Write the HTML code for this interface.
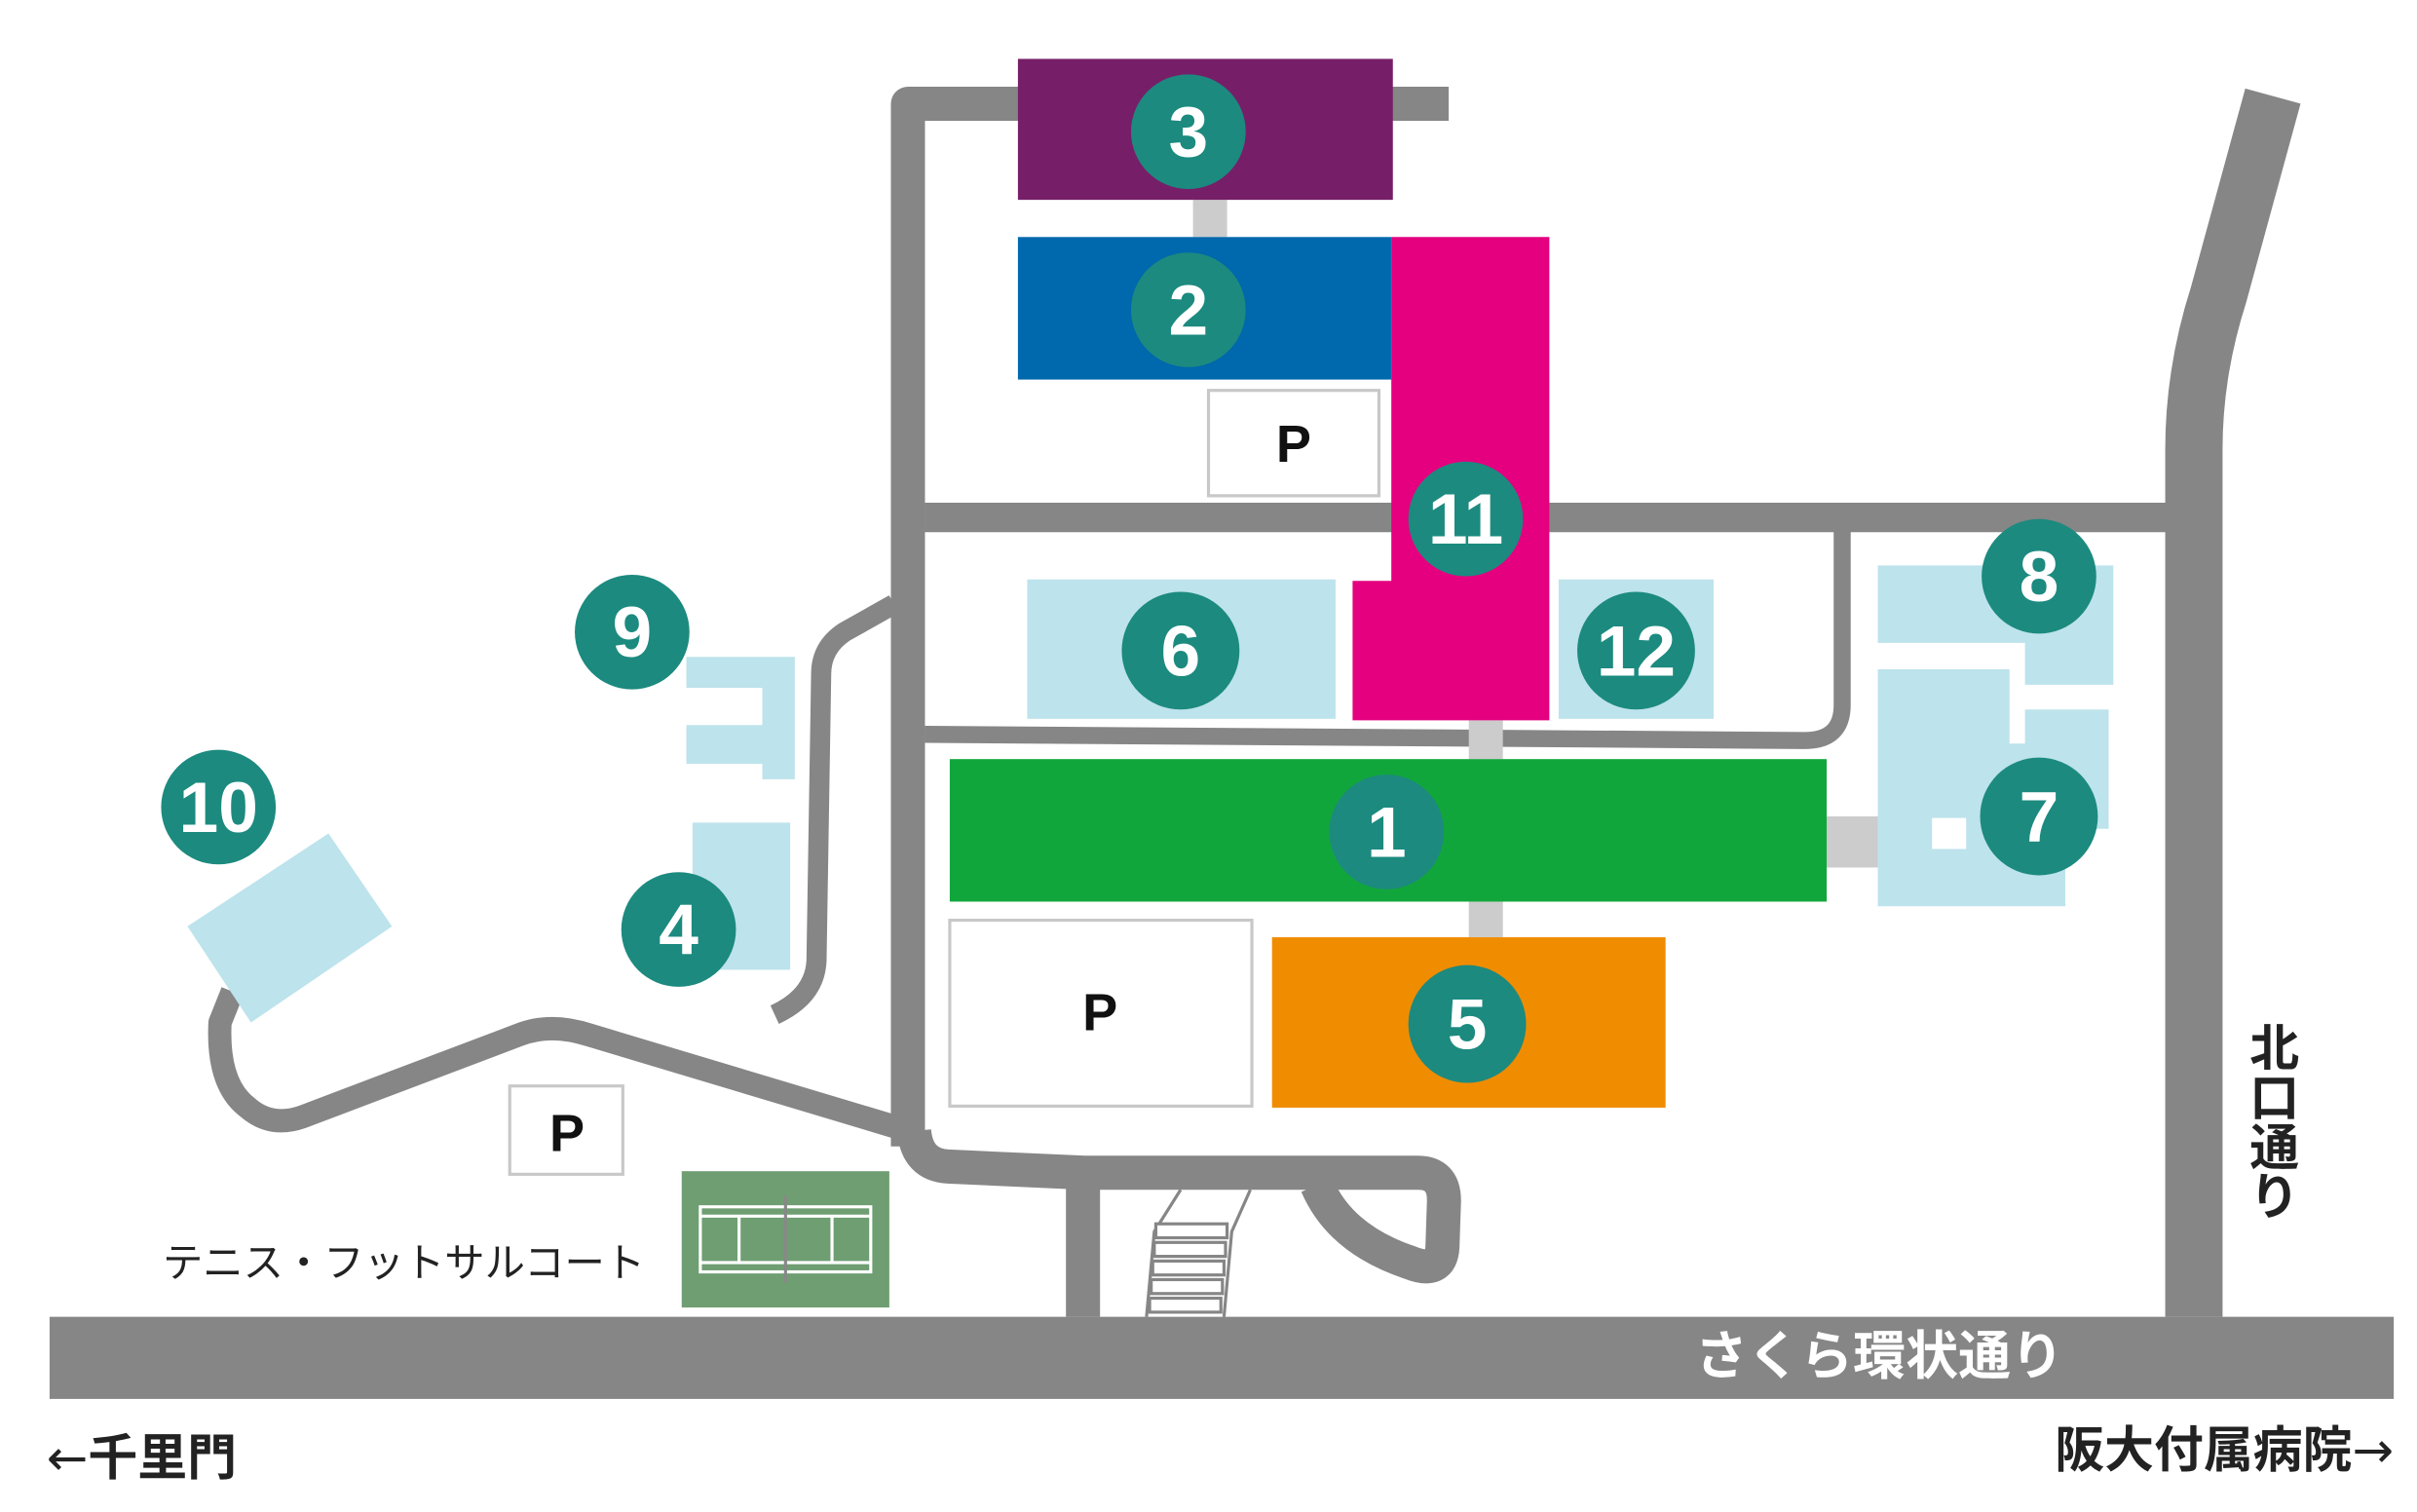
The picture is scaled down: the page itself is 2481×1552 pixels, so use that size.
<!DOCTYPE html>
<html><head><meta charset="utf-8"><style>
html,body{margin:0;padding:0;background:#fff}
svg{display:block}
.n{font-family:"Liberation Sans","DejaVu Sans",sans-serif;font-weight:bold;font-size:46px;fill:#fff;text-anchor:middle}
.p{font-family:"Liberation Sans",sans-serif;font-weight:bold;font-size:34px;fill:#111;text-anchor:middle}
.j{font-family:"Liberation Sans","Noto Sans CJK JP",sans-serif}
.ar{font-family:"DejaVu Sans",sans-serif;font-weight:normal}
</style></head><body>
<svg width="2481" height="1552" viewBox="0 0 1560 976" preserveAspectRatio="none" xmlns="http://www.w3.org/2000/svg">
<rect width="1560" height="976" fill="#fff"/>
<g fill="none" stroke="#858685" stroke-linejoin="round">
<path d="M586 740 V67 H935" stroke-width="22"/>
<path d="M597 334 H1400" stroke-width="19"/>
<path d="M1416 850 V290 Q1416 240 1432 190 L1467 62" stroke-width="37"/>
<path d="M1189 343 V455 Q1189 478 1165 478 L597 474" stroke-width="11"/>
<path d="M577 390 L545 408 Q530 418 530 435 L527 620 Q526 643 500 655" stroke-width="13"/>
<path d="M580 728 L380 668 Q355 660 335 668 L195 721 Q175 728 160 715 Q140 700 142 660 L150 640" stroke-width="15"/>
<path d="M590 730 Q592 752 612 753 L700 757 H915 Q932 757 932 775 L931 805 Q930 823 910 815 Q865 800 850 765" stroke-width="22"/>
<path d="M699 765 V850" stroke-width="22"/>
</g>
<rect x="32" y="850" width="1513" height="53" fill="#858685"/>
<g stroke="#858685" stroke-width="2" fill="#fff">
<path d="M762 768 L745 795 L740 850 M807 768 L795 795 L790 850" fill="none"/>
<rect x="746" y="790" width="46" height="9"/><rect x="745" y="802" width="46" height="9"/><rect x="744" y="814" width="46" height="9"/><rect x="743" y="826" width="46" height="9"/><rect x="742" y="838" width="46" height="9"/>
</g>
<g fill="#cccccc">
<rect x="770" y="129" width="22" height="24"/>
<rect x="948" y="465" width="22" height="25"/>
<rect x="1179" y="527" width="33" height="33"/>
<rect x="948" y="582" width="22" height="23"/>
</g>
<rect x="657" y="38" width="242" height="91" fill="#761f68"/>
<rect x="657" y="153" width="241" height="92" fill="#0068ac"/>
<rect x="780" y="252" width="110" height="68" fill="#fff" stroke="#c8c8c8" stroke-width="2"/>
<polygon points="898,153 1000,153 1000,465 873,465 873,375 898,375" fill="#e4007f"/>
<g fill="#bde3ec">
<rect x="663" y="374" width="199" height="90"/>
<rect x="1006" y="374" width="100" height="90"/>
<polygon points="1212,365 1364,365 1364,442 1307,442 1307,415 1212,415"/>
<polygon points="1212,432 1297,432 1297,480 1307,480 1307,458 1361,458 1361,535 1333,535 1333,585 1212,585"/>
<polygon points="443,424 513,424 513,503 492,503 492,493 443,493 443,468 492,468 492,444 443,444"/>
<rect x="447" y="531" width="63" height="95"/>
<polygon points="121,598 212,538 253,598 162,660"/>
</g>
<rect x="1247" y="528" width="22" height="20" fill="#fff"/>
<rect x="613" y="490" width="566" height="92" fill="#11a63c"/>
<rect x="821" y="605" width="254" height="110" fill="#f08c00"/>
<rect x="613" y="594" width="195" height="120" fill="#fff" stroke="#c8c8c8" stroke-width="2"/>
<rect x="329" y="701" width="73" height="57" fill="#fff" stroke="#c8c8c8" stroke-width="2"/>
<rect x="440" y="756" width="134" height="88" fill="#6e9e72"/>
<g fill="none" stroke="#fff" stroke-width="2">
<rect x="452" y="779" width="110" height="42"/><line x1="452" y1="785" x2="562" y2="785"/><line x1="452" y1="815" x2="562" y2="815"/><line x1="477" y1="785" x2="477" y2="815"/><line x1="537" y1="785" x2="537" y2="815"/>
</g>
<line x1="507" y1="772" x2="507" y2="828" stroke="#888" stroke-width="2"/>
<text class="p" x="835" y="298">P</text>
<text class="p" x="710" y="665">P</text>
<text class="p" x="366" y="743">P</text>
<g fill="#1c8a7f">
<circle cx="767" cy="85" r="37"/><circle cx="767" cy="200" r="37"/><circle cx="946" cy="335" r="37"/>
<circle cx="762" cy="420" r="38"/><circle cx="1056" cy="420" r="38"/><circle cx="1316" cy="372" r="37"/>
<circle cx="895" cy="537" r="37"/><circle cx="1316" cy="527" r="38"/><circle cx="947" cy="661" r="38"/>
<circle cx="408" cy="408" r="37"/><circle cx="438" cy="600" r="37"/><circle cx="141" cy="521" r="37"/>
</g>
<g class="n">
<text x="767" y="101">3</text><text x="767" y="216">2</text><text x="946" y="351">11</text>
<text x="762" y="436">6</text><text x="1056" y="436">12</text><text x="1316" y="388">8</text>
<text x="895" y="553">1</text><text x="1316" y="543">7</text><text x="947" y="677">5</text>
<text x="408" y="424">9</text><text x="438" y="616">4</text><text x="141" y="537">10</text>
</g>
<text class="j" x="105" y="824" font-size="26" fill="#222">テニス・フットサルコート</text>
<text class="j" x="1094" y="887" font-size="34" font-weight="bold" fill="#fff">さくら環状通り</text>
<text class="j" x="30" y="952" font-size="32" font-weight="bold" fill="#222"><tspan class="ar">←</tspan>千里門</text>
<text class="j" x="1545" y="947" font-size="32" font-weight="bold" fill="#222" text-anchor="end">阪大付属病院<tspan class="ar">→</tspan></text>
<g class="j" font-size="32" font-weight="bold" fill="#222" text-anchor="middle">
<text x="1468" y="688">北</text><text x="1468" y="720">口</text><text x="1468" y="752">通</text><text x="1468" y="784">り</text>
</g>
</svg>
</body></html>
